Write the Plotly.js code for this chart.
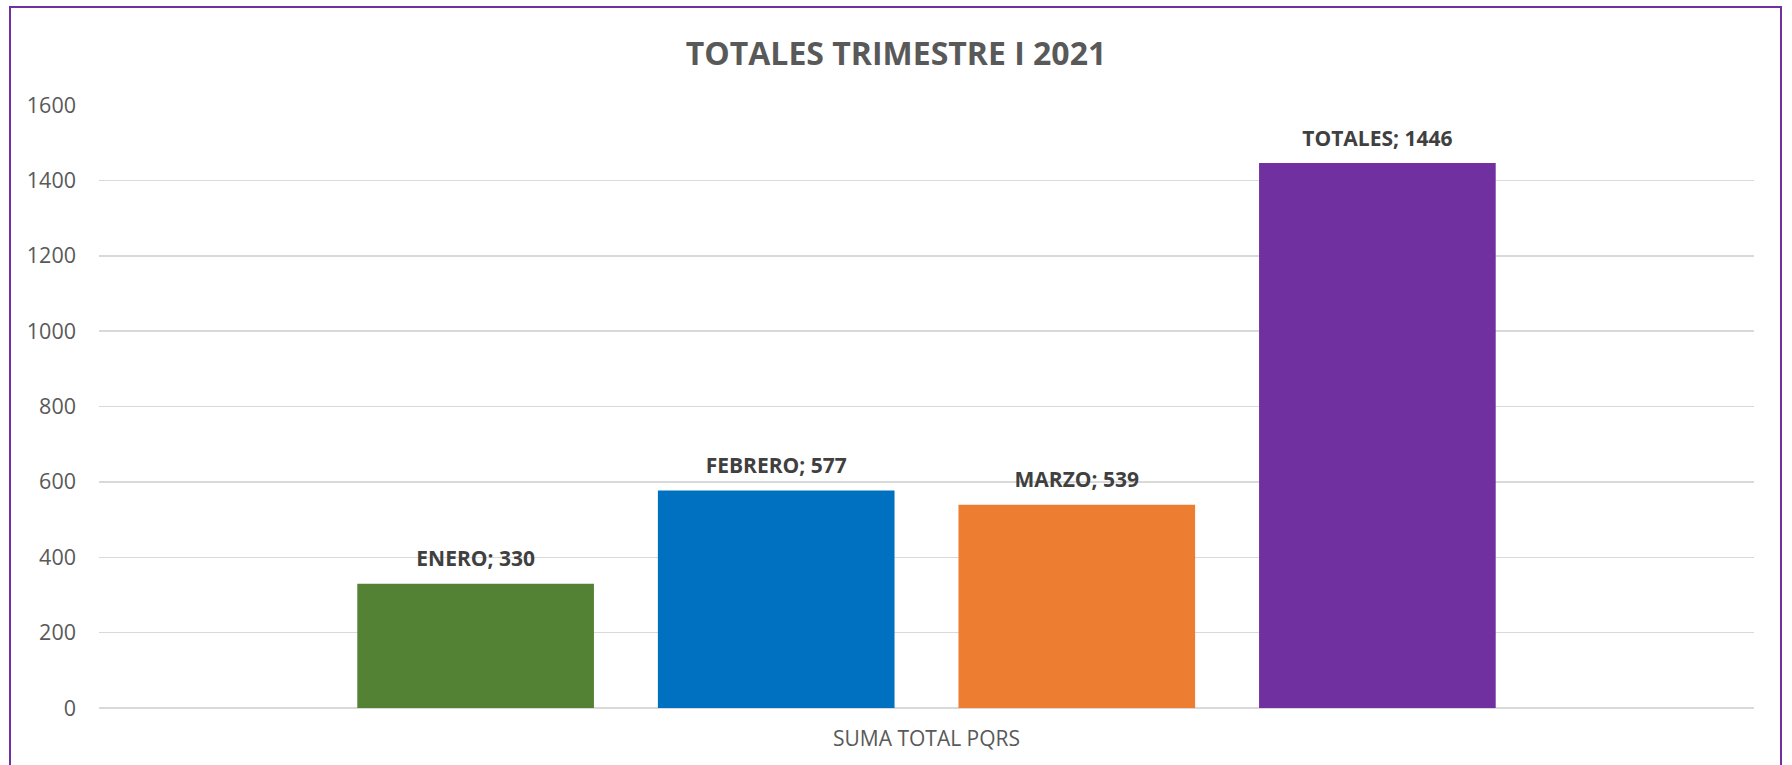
<!DOCTYPE html>
<html>
<head>
<meta charset="utf-8">
<script src="https://cdn.plot.ly/plotly-3.0.1.min.js"></script>
<style>
  html, body { margin: 0; padding: 0; background: #ffffff; overflow: hidden; }
  #wrap { position: relative; width: 1792px; height: 765px; }
  #chart { width: 1792px; height: 765px; }
  #frame { position: absolute; left: 9px; top: 6px; width: 1773px; height: 800px;
           border: 2px solid #7030A0; pointer-events: none; box-sizing: border-box; }
</style>
</head>
<body>
<div id="wrap">
  <div id="chart"></div>
  <div id="frame"></div>
</div>
<script>
const category = "SUMA TOTAL PQRS";
const seriesNames = ["ENERO", "FEBRERO", "MARZO", "TOTALES"];
const seriesValues = [330, 577, 539, 1446];
const seriesColors = ["#548235", "#0070C0", "#ED7D31", "#7030A0"];
const yTicks = [0, 200, 400, 600, 800, 1000, 1200, 1400, 1600];

const font = "'Open Sans', 'Noto Sans', sans-serif";
const traces = [];
seriesNames.forEach((n, i) => {
  traces.push({
    type: "bar",
    name: n,
    x: [category],
    y: [seriesValues[i]],
    offsetgroup: n,
    marker: { color: seriesColors[i] },
    hoverinfo: "none"
  });
});
seriesNames.forEach((n, i) => {
  traces.push({
    type: "scatter",
    mode: "markers+text",
    name: n + " label",
    x: [category],
    y: [seriesValues[i]],
    offsetgroup: n,
    text: [n + "; " + seriesValues[i]],
    textposition: "top center",
    textfont: { family: font, size: 21, color: "#404040", weight: "bold" },
    marker: { size: 18, opacity: 0 },
    cliponaxis: false,
    hoverinfo: "none"
  });
});

const layout = {
  width: 1792,
  height: 765,
  paper_bgcolor: "#ffffff",
  plot_bgcolor: "#ffffff",
  showlegend: false,
  barmode: "group",
  scattermode: "group",
  bargap: 0.2735,
  scattergap: 0.2735,
  bargroupgap: 0.2127,
  margin: { l: 99, r: 38, t: 105, b: 57, pad: 0 },
  title: {
    text: "<b>TOTALES TRIMESTRE I 2021</b>",
    font: { family: font, size: 32, color: "#595959" },
    x: 0.5, xref: "container", xanchor: "center",
    y: 1 - 54 / 765, yref: "container", yanchor: "middle"
  },
  xaxis: {
    type: "category",
    showgrid: false,
    showline: false,
    ticks: "",
    ticklabelstandoff: 16,
    tickfont: { family: font, size: 21, color: "#595959" },
    fixedrange: true
  },
  yaxis: {
    range: [0, 1600],
    tickvals: yTicks,
    ticktext: yTicks.map(String),
    showgrid: true,
    gridcolor: "#d9d9d9",
    gridwidth: 1.5,
    zeroline: true,
    zerolinecolor: "#d9d9d9",
    zerolinewidth: 1.5,
    showline: false,
    ticks: "",
    ticklabelstandoff: 22,
    tickfont: { family: font, size: 21.5, color: "#595959" },
    fixedrange: true
  }
};

Plotly.newPlot("chart", traces, layout, { displayModeBar: false, staticPlot: true });
</script>
</body>
</html>
